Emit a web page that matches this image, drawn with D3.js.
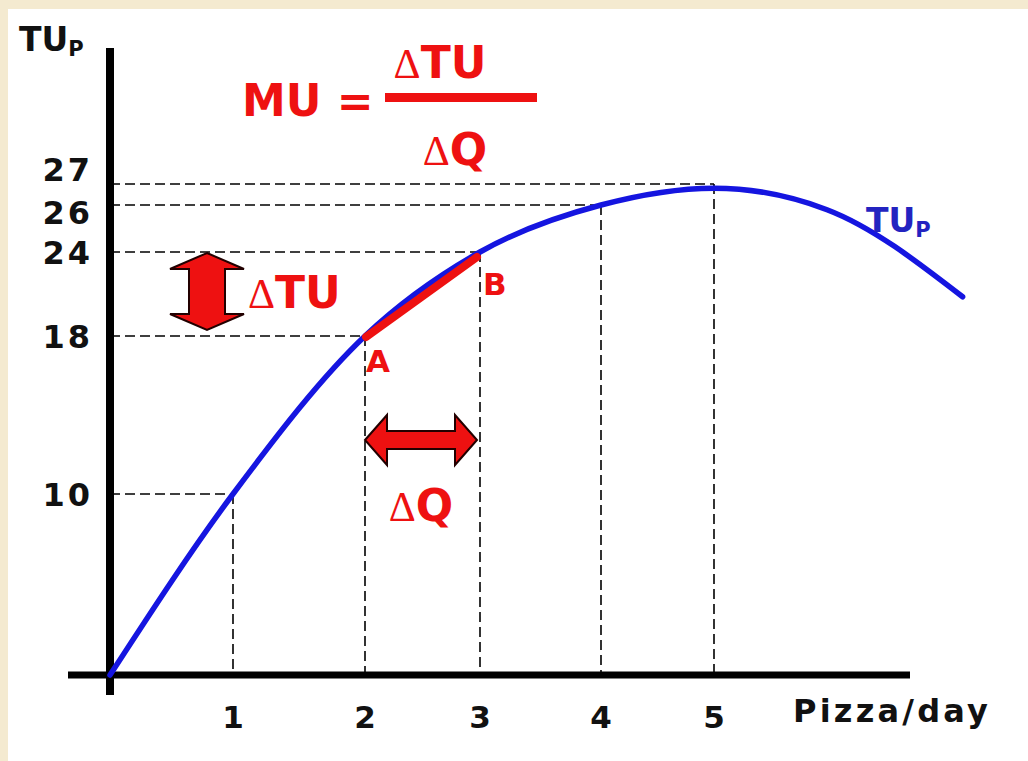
<!DOCTYPE html>
<html>
<head>
<meta charset="utf-8">
<script src="https://cdn.jsdelivr.net/npm/d3@7"></script>
<style>
  html, body { margin: 0; padding: 0; background: #f4ead0; }
  svg { display: block; }
  text { font-family: "DejaVu Sans", Verdana, sans-serif; font-weight: bold; }
  .delta { font-family: "Liberation Serif", "DejaVu Serif", serif; font-weight: normal; }
</style>
</head>
<body>
<svg id="chart" width="1028" height="761"></svg>
<script>
// ---- data ----
const quantity      = [0, 1, 2, 3, 4, 5, 6, 7.2];
const totalUtility  = [0, 10, 18, 24, 26, 26.8, 25.8, 20.8];
const guideQ        = [1, 2, 3, 4, 5];
const guideTU       = [10, 18, 24, 26, 27];
const xTickValues   = [1, 2, 3, 4, 5];
const xTickLabels   = ["1", "2", "3", "4", "5"];
const yTickValues   = [10, 18, 24, 26, 27];
const yTickLabels   = ["10", "18", "24", "26", "27"];
const pointA        = [2, 18];
const pointB        = [3, 24];

// ---- layout ----
const svg = d3.select("#chart");
svg.append("rect").attr("x", 8).attr("y", 9).attr("width", 1020).attr("height", 752).attr("fill", "#ffffff");

// hand-drawn diagram: uneven spacing -> piecewise linear scales
const x = d3.scaleLinear().domain([0, 1, 2, 3, 4, 5]).range([110, 233, 365, 480, 601, 714]);
const y = d3.scaleLinear().domain([0, 10, 18, 24, 26, 27]).range([675, 494, 336, 252, 205, 184]);

const RED = "#ee1111", BLUE = "#1515e0", BLACK = "#111111";

// dashed guides
const guides = svg.append("g").attr("stroke", "#000").attr("stroke-width", 1.6).attr("stroke-dasharray", "10,5").attr("fill", "none");
guideQ.forEach((q, i) => {
  guides.append("line").attr("x1", x(0)).attr("x2", x(q)).attr("y1", y(guideTU[i])).attr("y2", y(guideTU[i]));
  guides.append("line").attr("x1", x(q)).attr("x2", x(q)).attr("y1", y(guideTU[i])).attr("y2", y(0));
});

// axes
svg.append("line").attr("x1", x(0)).attr("x2", x(0)).attr("y1", 48).attr("y2", 695)
  .attr("stroke", "#000").attr("stroke-width", 8);
svg.append("line").attr("x1", 68).attr("x2", 910).attr("y1", y(0)).attr("y2", y(0))
  .attr("stroke", "#000").attr("stroke-width", 7);

// TU curve
const pts = quantity.map((q, i) => [q, totalUtility[i]]);
const line = d3.line().x(d => x(d[0])).y(d => y(d[1])).curve(d3.curveMonotoneX);
svg.append("path").datum(pts).attr("d", line).attr("fill", "none")
  .attr("stroke", BLUE).attr("stroke-width", 5.5).attr("stroke-linecap", "round");

// chord A-B
svg.append("line").attr("x1", x(pointA[0]) + 1).attr("y1", y(pointA[1]) + 1)
  .attr("x2", x(pointB[0]) - 3).attr("y2", y(pointB[1]) + 5)
  .attr("stroke", RED).attr("stroke-width", 8).attr("stroke-linecap", "round");

// x tick labels
svg.append("g").selectAll("text").data(xTickValues).join("text")
  .attr("x", d => x(d)).attr("y", 728).attr("text-anchor", "middle")
  .attr("font-size", 31).attr("fill", BLACK).text((d, i) => xTickLabels[i]);
svg.append("text").attr("x", 793).attr("y", 722).attr("font-size", 32).attr("letter-spacing", 3.2)
  .attr("fill", BLACK).text("Pizza/day");

// y tick labels (nudge the two crowded top labels apart)
const nudge = {27: -15, 26: 7};
svg.append("g").selectAll("text").data(yTickValues).join("text")
  .attr("x", 93).attr("y", d => y(d) + (nudge[d] || 0)).attr("dy", "0.36em").attr("text-anchor", "end")
  .attr("font-size", 32).attr("letter-spacing", 3).attr("fill", BLACK).text((d, i) => yTickLabels[i]);

// axis title TUp
const t1 = svg.append("text").attr("x", 19).attr("y", 51).attr("font-size", 33).attr("fill", BLACK);
t1.append("tspan").text("TU");
t1.append("tspan").attr("font-size", 21).attr("dy", 5).text("P");

// curve label
const t2 = svg.append("text").attr("x", 866).attr("y", 232).attr("font-size", 33).attr("fill", "#2323c0");
t2.append("tspan").text("TU");
t2.append("tspan").attr("font-size", 21).attr("dy", 5).text("P");

function deltaLabel(xx, yy, rest, anchor) {
  const t = svg.append("text").attr("x", xx).attr("y", yy).attr("text-anchor", anchor)
    .attr("font-size", 44).attr("fill", RED);
  t.append("tspan").attr("class", "delta").attr("font-size", 42).text("Δ");
  t.append("tspan").text(rest);
  return t;
}

// formula
svg.append("text").attr("x", 242).attr("y", 116).attr("font-size", 44).attr("fill", RED).text("MU =");
svg.append("rect").attr("x", 385).attr("y", 93).attr("width", 152).attr("height", 9).attr("fill", RED);
deltaLabel(440, 78, "TU", "middle");
deltaLabel(455, 165, "Q", "middle");

// vertical double arrow (ΔTU)
{
  const cx = 207, top = y(24) + 1, bot = y(18) - 6, hw = 37, sw = 18, hh = 16;
  const p = d3.path();
  p.moveTo(cx, top); p.lineTo(cx + hw, top + hh); p.lineTo(cx + sw, top + hh);
  p.lineTo(cx + sw, bot - hh); p.lineTo(cx + hw, bot - hh); p.lineTo(cx, bot);
  p.lineTo(cx - hw, bot - hh); p.lineTo(cx - sw, bot - hh); p.lineTo(cx - sw, top + hh);
  p.lineTo(cx - hw, top + hh); p.closePath();
  svg.append("path").attr("d", p.toString()).attr("fill", RED).attr("stroke", "#220000").attr("stroke-width", 2);
}
deltaLabel(248, 308, "TU", "start");

// horizontal double arrow (ΔQ)
{
  const cy = 440, l = x(2), r = x(3) - 3, hh = 25, sh = 9, hl = 22;
  const p = d3.path();
  p.moveTo(l, cy); p.lineTo(l + hl, cy - hh); p.lineTo(l + hl, cy - sh);
  p.lineTo(r - hl, cy - sh); p.lineTo(r - hl, cy - hh); p.lineTo(r, cy);
  p.lineTo(r - hl, cy + hh); p.lineTo(r - hl, cy + sh); p.lineTo(l + hl, cy + sh);
  p.lineTo(l + hl, cy + hh); p.closePath();
  svg.append("path").attr("d", p.toString()).attr("fill", RED).attr("stroke", "#220000").attr("stroke-width", 2);
}
deltaLabel(421, 521, "Q", "middle");

// point labels
svg.append("text").attr("x", x(pointA[0]) + 1).attr("y", y(pointA[1]) + 36).attr("font-size", 31).attr("fill", RED).text("A");
svg.append("text").attr("x", x(pointB[0]) + 3).attr("y", y(pointB[1]) + 43).attr("font-size", 31).attr("fill", RED).text("B");
</script>
</body>
</html>
